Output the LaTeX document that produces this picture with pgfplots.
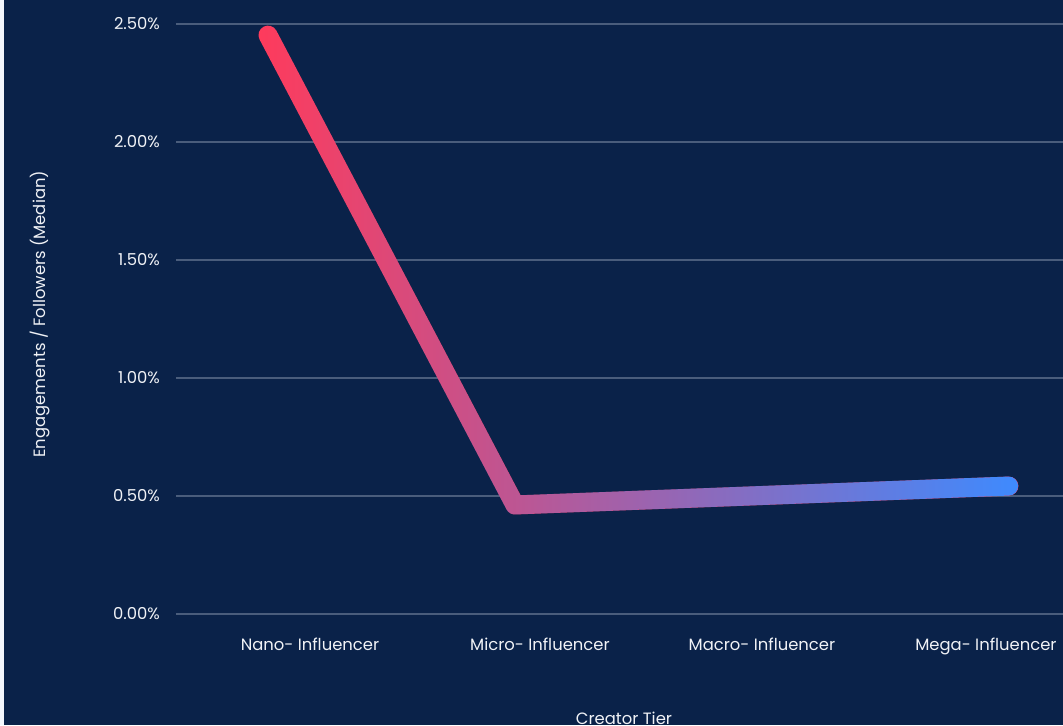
\documentclass[border=0pt]{standalone}
\usepackage{fontspec}
\setmainfont{Poppins}
\usepackage{pgfplots}
\pgfplotsset{compat=1.18}
\usetikzlibrary{fadings}

\definecolor{bgnavy}{RGB}{10,34,73}
\definecolor{strip}{RGB}{244,247,253}
\definecolor{gridcol}{RGB}{74,93,124}
\definecolor{txt}{RGB}{240,242,246}
\definecolor{linered}{RGB}{255,59,92}
\definecolor{lineblue}{RGB}{62,139,255}

\tikzfading[name=lefttoright, left color=transparent!100, right color=transparent!0]

% median engagement rate by creator tier (%)
\pgfplotstableread{
x y
0 2.453
1 0.462
2 0.502
3 0.542
}\tiers

\begin{document}
\begin{tikzpicture}
\path[use as bounding box] (-88pt,-55.5pt) rectangle (443.5pt,307pt);
\fill[bgnavy] (-88pt,-55.5pt) rectangle (443.5pt,307pt);
\fill[strip] (-88pt,-55.5pt) rectangle (-86pt,307pt);
\begin{axis}[
    at={(0,0)}, anchor=south west,
    scale only axis,
    width=443.5pt, height=295pt,
    xmin=-0.3725, xmax=3.219,
    ymin=0, ymax=2.5,
    clip=false,
    axis line style={draw=none},
    tick style={draw=none},
    major tick length=0pt,
    ymajorgrids,
    grid style={gridcol, line width=0.7pt},
    ytick={0,0.5,1,1.5,2,2.5},
    yticklabel={\pgfmathprintnumber[fixed,fixed zerofill,precision=2]{\tick}\%},
    /pgf/number format/assume math mode=true,
    xtick={0.170,1.101,2.0,2.907},
    xticklabels={Nano- Influencer, Micro- Influencer, Macro- Influencer, Mega- Influencer},
    ticklabel style={font=\fontsize{8.2}{10}\selectfont, text=txt},
    yticklabel style={xshift=-4.5pt},
    xticklabel style={yshift=-8.5pt},
    xlabel={Creator Tier},
    ylabel={Engagements / Followers (Median)},
    label style={font=\fontsize{8.2}{10}\selectfont, text=txt},
    xlabel style={at={(axis description cs:0.505,-0.176)}, anchor=center},
    ylabel style={at={(axis description cs:-0.1533,0.508)}, anchor=center},
]
\addplot[linered, line width=9.5pt, line cap=round, line join=round] table[x=x, y=y] {\tiers};
\addplot[lineblue, line width=9.5pt, line cap=round, line join=round,
    path fading=lefttoright, fit fading=true] table[x=x, y=y] {\tiers};
\end{axis}
\end{tikzpicture}
\end{document}
